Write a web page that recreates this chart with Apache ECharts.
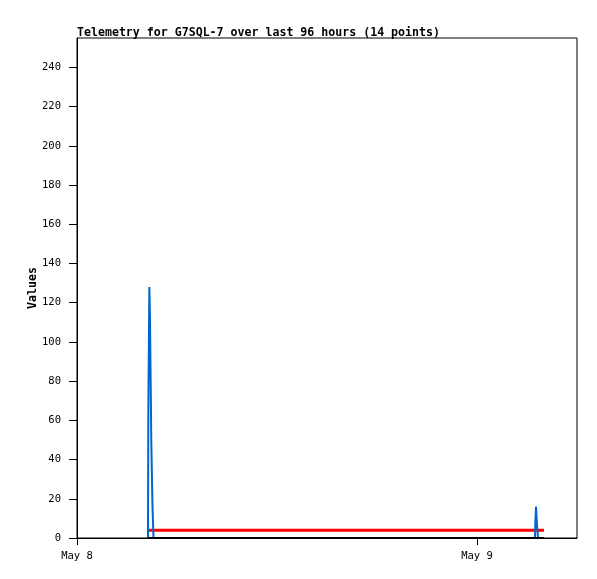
<!DOCTYPE html>
<html>
<head>
<meta charset="utf-8">
<script src="https://cdn.jsdelivr.net/npm/echarts@6/dist/echarts.min.js"></script>
<style>
html,body{margin:0;padding:0;background:#fff;}
#chart{width:597px;height:579px;}
</style>
</head>
<body>
<div id="chart"></div>
<script>
// Hours since May 8 00:00
const hours = [4.26, 4.28, 4.34, 4.38, 4.42, 4.46, 4.53, 4.59, 27.48, 27.50, 27.54, 27.59, 27.66, 28.02];
const blueValues = [0, 64, 128, 112, 80, 48, 16, 0, 0, 8, 16, 8, 0, 0];
const redValues = [4, 4, 4, 4, 4, 4, 4, 4, 4, 4, 4, 4, 4, 4];
const blackValues = [0, 0, 0, 0, 0, 0, 0, 0, 0, 0, 0, 0, 0, 0];
const xTickHours = [0, 24];
const xTickLabels = ['May 8', 'May 9'];
const yTicks = [0, 20, 40, 60, 80, 100, 120, 140, 160, 180, 200, 220, 240];

const font = 'DejaVu Sans Mono';
const pair = arr => hours.map((h, i) => [h, arr[i]]);

const chart = echarts.init(document.getElementById('chart'), null, {renderer: 'canvas'});
chart.setOption({
  animation: false,
  backgroundColor: '#fff',
  title: {
    text: 'Telemetry for G7SQL-7 over last 96 hours (14 points)',
    left: 72, top: 22,
    textStyle: {fontFamily: font, fontSize: 11.6, fontWeight: 'bold', color: '#000'}
  },
  grid: {left: 77, top: 38, width: 500, height: 500, show: true, borderColor: '#000', borderWidth: 1, backgroundColor: 'transparent'},
  xAxis: {
    type: 'value', min: 0, max: 30,
    axisLine: {show: true, lineStyle: {color: '#000', width: 1}},
    axisTick: {show: true, length: 7, customValues: xTickHours, lineStyle: {color: '#000'}},
    axisLabel: {
      customValues: xTickHours, margin: 13,
      fontFamily: font, fontSize: 10.5, color: '#000',
      formatter: v => xTickLabels[xTickHours.indexOf(v)] || ''
    },
    splitLine: {show: false}
  },
  yAxis: {
    type: 'value', min: 0, max: 255,
    name: 'Values', nameLocation: 'middle', nameGap: 38, nameRotate: 90, nameMoveOverlap: false,
    nameTextStyle: {fontFamily: font, fontSize: 11.6, fontWeight: 'bold', color: '#000'},
    axisLine: {show: true, lineStyle: {color: '#000', width: 1}},
    axisTick: {show: true, length: 8, customValues: yTicks, lineStyle: {color: '#000'}},
    axisLabel: {customValues: yTicks, margin: 16, fontFamily: font, fontSize: 10.5, color: '#000'},
    splitLine: {show: false}
  },
  series: [
    {type: 'line', data: pair(redValues), symbol: 'none', lineStyle: {color: '#ff0000', width: 3}, z: 2},
    {type: 'line', data: pair(blueValues), symbol: 'none', lineStyle: {color: '#0066cc', width: 2}, z: 3},
    {type: 'line', data: pair(blackValues), symbol: 'none', lineStyle: {color: '#000000', width: 2}, z: 4}
  ]
});
</script>
</body>
</html>
